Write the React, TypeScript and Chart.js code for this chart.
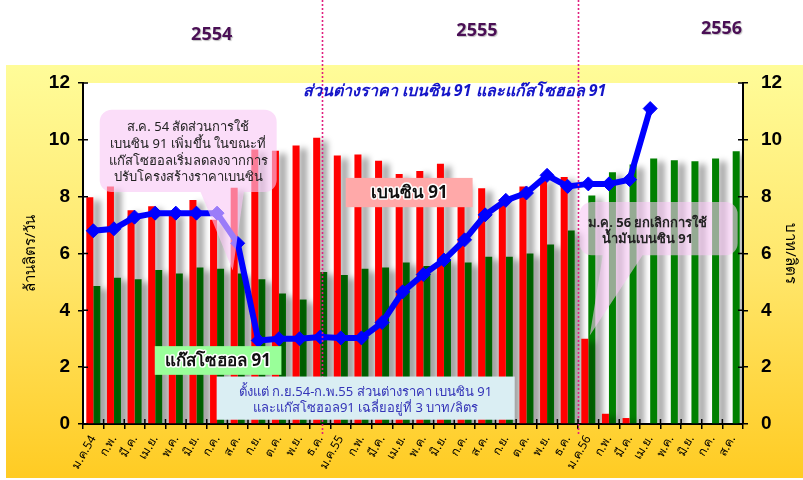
import React, { useEffect, useRef } from 'react';
import { Chart, registerables } from 'chart.js';
Chart.register(...registerables);

// ---------- data ----------
const months = [
  'ม.ค.54', 'ก.พ.', 'มี.ค.', 'เม.ย.', 'พ.ค.', 'มิ.ย.', 'ก.ค.', 'ส.ค.', 'ก.ย.', 'ต.ค.', 'พ.ย.', 'ธ.ค.',
  'ม.ค.55', 'ก.พ.', 'มี.ค.', 'เม.ย.', 'พ.ค.', 'มิ.ย.', 'ก.ค.', 'ส.ค.', 'ก.ย.', 'ต.ค.', 'พ.ย.', 'ธ.ค.',
  'ม.ค.56', 'ก.พ.', 'มี.ค.', 'เม.ย.', 'พ.ค.', 'มิ.ย.', 'ก.ค.', 'ส.ค.',
];
// ล้านลิตร/วัน
const benzin91 = [
  7.98, 8.36, 7.52, 7.66, 7.45, 7.88, 7.19, 8.31, 9.66, 9.62, 9.8, 10.07,
  9.45, 9.48, 9.26, 8.8, 8.9, 9.16, 8.5, 8.3, 7.92, 8.36, 8.66, 8.69,
  3.0, 0.36, 0.21, null, null, null, null, null,
];
const gasohol91 = [
  4.86, 5.15, 5.09, 5.42, 5.3, 5.51, 5.46, 5.3, 5.09, 4.59, 4.38, 5.35,
  5.24, 5.46, 5.51, 5.68, 5.56, 5.77, 5.68, 5.89, 5.89, 6.0, 6.32, 6.81,
  8.04, 8.86, 9.13, 9.34, 9.28, 9.25, 9.34, 9.6,
];
// บาท/ลิตร
const priceGap = [
  6.8, 6.87, 7.28, 7.42, 7.42, 7.42, 7.42, 6.36, 2.94, 3.0, 3.0, 3.06,
  3.03, 3.03, 3.57, 4.65, 5.26, 5.77, 6.48, 7.36, 7.87, 8.13, 8.75, 8.36,
  8.45, 8.45, 8.6, 11.1, null, null, null, null,
];
const yearLabels = ['2554', '2555', '2556'];
const chartTitle = 'ส่วนต่างราคา เบนซิน 91 และแก๊สโซฮอล 91';
const leftAxisTitle = 'ล้านลิตร/วัน';
const rightAxisTitle = 'บาท/ลิตร';
const benzinLabel = 'เบนซิน 91';
const gasoholLabel = 'แก๊สโซฮอล 91';
const note1 = ['ส.ค. 54 สัดส่วนการใช้', 'เบนซิน 91 เพิ่มขึ้น ในขณะที่', 'แก๊สโซฮอลเริ่มลดลงจากการ', 'ปรับโครงสร้างราคาเบนซิน'];
const note2 = ['ม.ค. 56 ยกเลิกการใช้', 'น้ำมันเบนซิน 91'];
const note3 = ['ตั้งแต่ ก.ย.54-ก.พ.55 ส่วนต่างราคา เบนซิน 91', 'และแก๊สโซฮอล91 เฉลี่ยอยู่ที่ 3 บาท/ลิตร'];

const FONT = "Tahoma, 'Noto Sans', 'DejaVu Sans', sans-serif";
const NUMFONT = "'Liberation Sans', Arial, sans-serif";

// ---------- helpers ----------
function calloutPath(ctx: CanvasRenderingContext2D, x1: number, y1: number, x2: number, y2: number, r: number, tail?: { b1: number; b2: number; tx: number; ty: number }) {
  ctx.beginPath();
  ctx.moveTo(x1 + r, y1);
  ctx.lineTo(x2 - r, y1);
  ctx.arcTo(x2, y1, x2, y1 + r, r);
  ctx.lineTo(x2, y2 - r);
  ctx.arcTo(x2, y2, x2 - r, y2, r);
  if (tail) {
    ctx.lineTo(tail.b2, y2);
    ctx.lineTo(tail.tx, tail.ty);
    ctx.lineTo(tail.b1, y2);
  }
  ctx.lineTo(x1 + r, y2);
  ctx.arcTo(x1, y2, x1, y2 - r, r);
  ctx.lineTo(x1, y1 + r);
  ctx.arcTo(x1, y1, x1 + r, y1, r);
  ctx.closePath();
}

const bgPlugin = {
  id: 'bg',
  beforeDraw(chart: any) {
    const { ctx, width, height, chartArea } = chart;
    ctx.save();
    ctx.fillStyle = '#ffffff';
    ctx.fillRect(0, 0, width, height);
    const top = chartArea.top - 18;
    const g = ctx.createLinearGradient(0, top, 0, height);
    g.addColorStop(0, '#FFFC99');
    g.addColorStop(0.5, '#FFE66A');
    g.addColorStop(1, '#FFCB22');
    ctx.fillStyle = g;
    ctx.fillRect(6, top, width - 6, height - top - 2);
    ctx.fillStyle = '#ffffff';
    ctx.fillRect(chartArea.left, chartArea.top, chartArea.right - chartArea.left, chartArea.bottom - chartArea.top);
    ctx.restore();
  },
};

const shadowPlugin = {
  id: 'barShadow',
  beforeDatasetDraw(chart: any, args: any) {
    const ds = chart.data.datasets[args.index];
    if (ds.type === 'bar') {
      const ctx = chart.ctx;
      ctx.save();
      ctx.shadowColor = 'rgba(0,0,0,0.4)';
      ctx.shadowOffsetX = 7;
      ctx.shadowOffsetY = 3;
      ctx.shadowBlur = 6;
      ds._shadowed = true;
    }
  },
  afterDatasetDraw(chart: any, args: any) {
    const ds = chart.data.datasets[args.index];
    if (ds._shadowed) {
      chart.ctx.restore();
      ds._shadowed = false;
    }
  },
};

const innerTicksPlugin = {
  id: 'innerTicks',
  afterDraw(chart: any) {
    const { ctx, chartArea, scales } = chart;
    ctx.save();
    ctx.strokeStyle = '#000';
    ctx.lineWidth = 1.5;
    ctx.beginPath();
    scales.y.ticks.forEach((t: any) => {
      const y = scales.y.getPixelForValue(t.value);
      ctx.moveTo(chartArea.left, y); ctx.lineTo(chartArea.left + 5, y);
      ctx.moveTo(chartArea.right - 5, y); ctx.lineTo(chartArea.right, y);
    });
    for (let i = 0; i <= months.length; i++) {
      const x = scales.x.getPixelForValue(i - 0.5);
      ctx.moveTo(x, chartArea.bottom - 5); ctx.lineTo(x, chartArea.bottom);
    }
    ctx.stroke();
    ctx.restore();
  },
};

const dividerPlugin = {
  id: 'dividers',
  afterDatasetsDraw(chart: any) {
    const { ctx, scales, chartArea } = chart;
    ctx.save();
    ctx.strokeStyle = '#E0207F';
    ctx.lineWidth = 1.6;
    ctx.setLineDash([2, 2]);
    [11.07, 23.5].forEach((v) => {
      const x = Math.round(scales.x.getPixelForValue(v)) + 0.5;
      ctx.beginPath();
      ctx.moveTo(x, 0);
      ctx.lineTo(x, chartArea.bottom + 10);
      ctx.stroke();
    });
    ctx.restore();
  },
};

const annotationPlugin = {
  id: 'notes',
  afterDraw(chart: any) {
    const { ctx, scales } = chart;
    const X = (v: number) => scales.x.getPixelForValue(v);
    const Y = (v: number) => scales.y.getPixelForValue(v);
    ctx.save();
    ctx.textAlign = 'center';
    ctx.textBaseline = 'middle';

    // year labels
    ctx.font = `bold 18px ${FONT}`;
    ctx.fillStyle = '#4A0F55';
    ctx.shadowColor = 'rgba(0,0,0,0.25)';
    ctx.shadowOffsetX = 1; ctx.shadowOffsetY = 1; ctx.shadowBlur = 1;
    ctx.fillText(yearLabels[0], X(5.74), Y(13.7));
    ctx.fillText(yearLabels[1], X(18.6), Y(13.85));
    ctx.fillText(yearLabels[2], X(30.46), Y(13.9));
    ctx.shadowColor = 'transparent';

    // title
    ctx.font = `italic bold 16px ${FONT}`;
    ctx.fillStyle = '#1515C8';
    ctx.fillText(chartTitle, X(17.51), Y(11.69));

    // callout 1 (top-left)
    ctx.fillStyle = 'rgba(248,200,245,0.62)';
    calloutPath(ctx, X(0.31), Y(11.06), X(8.89), Y(8.16), 12, { b1: X(5.2), b2: X(7.3), tx: X(6.76), ty: Y(5.4) });
    ctx.fill();
    ctx.fillStyle = '#222';
    ctx.font = `13px ${FONT}`;
    [10.43, 9.83, 9.26, 8.69].forEach((yv, i) => ctx.fillText(note1[i], X(4.6), Y(yv)));

    // callout 2 (bottom-right)
    ctx.fillStyle = 'rgba(248,200,245,0.6)';
    calloutPath(ctx, X(23.58), Y(7.81), X(31.24), Y(5.94), 12, { b1: X(24.7), b2: X(26.63), tx: X(24.07), ty: Y(3.11) });
    ctx.fill();
    ctx.fillStyle = '#222';
    ctx.font = `bold 13px ${FONT}`;
    ctx.fillText(note2[0], X(26.87), Y(7.07));
    ctx.fillText(note2[1], X(26.87), Y(6.5));

    // series label boxes
    const labelBox = (text: string, x1: number, y1: number, x2: number, y2: number, fill: string) => {
      ctx.fillStyle = fill;
      ctx.fillRect(X(x1), Y(y1), X(x2) - X(x1), Y(y2) - Y(y1));
      ctx.font = `bold 17px ${FONT}`;
      const cx = (X(x1) + X(x2)) / 2;
      const cy = (Y(y1) + Y(y2)) / 2 + 1;
      ctx.lineWidth = 3;
      ctx.strokeStyle = '#ffffff';
      ctx.lineJoin = 'round';
      ctx.strokeText(text, cx, cy);
      ctx.fillStyle = '#111';
      ctx.fillText(text, cx, cy);
    };
    labelBox(benzinLabel, 12.24, 8.66, 18.39, 7.63, '#FFA9A9');
    labelBox(gasoholLabel, 2.98, 2.74, 9.12, 1.73, '#99FF99');

    // info box
    ctx.fillStyle = '#DAEEF3';
    ctx.fillRect(X(5.98), Y(1.67), X(20.43) - X(5.98), Y(0.15) - Y(1.67));
    ctx.fillStyle = '#3434B8';
    ctx.font = `13px ${FONT}`;
    ctx.fillText(note3[0], X(13.2), Y(1.11));
    ctx.fillText(note3[1], X(13.2), Y(0.54));

    ctx.restore();
  },
};

export default function App() {
  const ref = useRef<HTMLCanvasElement | null>(null);
  useEffect(() => {
    document.body.style.margin = '0';
    const canvas = ref.current!;
    const tickFont = { family: NUMFONT, size: 19, weight: 'bold' as const };
    const chart = new Chart(canvas, {
      type: 'bar',
      data: {
        labels: months,
        datasets: [
          {
            type: 'line',
            label: 'ส่วนต่างราคา',
            data: priceGap as any,
            yAxisID: 'y1',
            borderColor: '#0000FF',
            backgroundColor: '#0000FF',
            borderWidth: 6,
            pointStyle: 'rectRot',
            pointRadius: 7,
            pointBorderWidth: 1,
            tension: 0,
            order: 0,
            spanGaps: false,
          },
          {
            type: 'bar',
            label: benzinLabel,
            data: benzin91 as any,
            yAxisID: 'y',
            backgroundColor: '#FF0000',
            categoryPercentage: 0.68,
            barPercentage: 1,
            order: 1,
          },
          {
            type: 'bar',
            label: gasoholLabel,
            data: gasohol91 as any,
            yAxisID: 'y',
            backgroundColor: '#008000',
            categoryPercentage: 0.68,
            barPercentage: 1,
            order: 1,
          },
        ] as any,
      },
      options: {
        animation: false,
        responsive: false,
        devicePixelRatio: 1,
        layout: { padding: { top: 83, left: 0, right: 0, bottom: 0 } },
        plugins: { legend: { display: false }, tooltip: { enabled: false }, title: { display: false } },
        scales: {
          x: {
            offset: true,
            grid: { display: true, drawOnChartArea: false, drawTicks: true, tickLength: 5, color: '#000', lineWidth: 1.5, offset: true },
            border: { display: true, color: '#000', width: 2 },
            ticks: { color: '#000', font: { family: FONT, size: 12 }, minRotation: 60, maxRotation: 60, autoSkip: false, padding: 4 },
            afterFit: (s: any) => { s.height = 56; },
          },
          y: {
            position: 'left',
            min: 0, max: 12,
            grid: { display: true, drawOnChartArea: false, drawTicks: true, tickLength: 5, color: '#000', lineWidth: 1.5 },
            border: { display: true, color: '#000', width: 2 },
            ticks: { stepSize: 2, color: '#000', font: tickFont, padding: 8 },
            title: { display: true, text: leftAxisTitle, color: '#000', font: { family: FONT, size: 15 }, padding: { top: 22, bottom: 0 } },
            afterFit: (s: any) => { s.width = 83; },
          },
          y1: {
            position: 'right',
            min: 0, max: 12,
            grid: { display: true, drawOnChartArea: false, drawTicks: true, tickLength: 5, color: '#000', lineWidth: 1.5 },
            border: { display: true, color: '#000', width: 2 },
            ticks: { stepSize: 2, color: '#000', font: tickFont, padding: 13 },
            title: { display: true, text: rightAxisTitle, color: '#000', font: { family: FONT, size: 15 }, padding: { top: 4, bottom: 0 } },
            afterFit: (s: any) => { s.width = 60; },
          },
        },
      } as any,
      plugins: [bgPlugin, shadowPlugin, dividerPlugin, innerTicksPlugin, annotationPlugin],
    });
    return () => chart.destroy();
  }, []);
  return (
    <div style={{ width: 803, height: 480, position: 'relative' }}>
      <canvas ref={ref} width={803} height={480} style={{ display: 'block', width: 803, height: 480 }} />
    </div>
  );
}
